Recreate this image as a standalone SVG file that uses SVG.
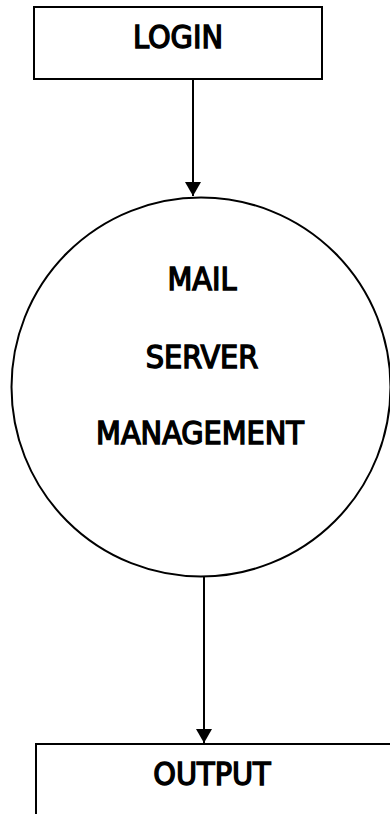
<svg xmlns="http://www.w3.org/2000/svg" width="390" height="814" viewBox="0 0 390 814">
  <style>
    .box { fill: #fff; stroke: #000; stroke-width: 2; }
    .proc { fill: #fff; stroke: #000; stroke-width: 2; }
    .edge { stroke: #000; stroke-width: 2; fill: none; }
    .lbl { font-family: "DejaVu Sans Condensed", "DejaVu Sans", "Liberation Sans", sans-serif; font-stretch: condensed; font-size: 32px; fill: #000; stroke: #000; stroke-width: 1.4; text-anchor: middle; }
  </style>
  <defs>
    <marker id="arrow" markerUnits="userSpaceOnUse" markerWidth="18" markerHeight="16" refX="14" refY="8" orient="auto">
      <path d="M0,0 L14,8 L0,16 Z" fill="#000"/>
    </marker>
  </defs>
  <rect width="390" height="814" fill="#fff"/>

  <g id="login">
    <rect class="box" x="34" y="7" width="288" height="72"/>
    <text class="lbl" x="178" y="48">LOGIN</text>
  </g>

  <g id="mail-server-management">
    <circle class="proc" cx="201" cy="387" r="189.5"/>
    <text class="lbl" x="202" y="290">MAIL</text>
    <text class="lbl" x="202" y="368">SERVER</text>
    <text class="lbl" x="200" y="444">MANAGEMENT</text>
  </g>

  <g id="output">
    <rect class="box" x="36" y="744" width="370" height="100"/>
    <text class="lbl" x="212" y="785">OUTPUT</text>
  </g>

  <g id="connectors">
    <line class="edge" x1="193" y1="79" x2="193" y2="196" marker-end="url(#arrow)"/>
    <line class="edge" x1="204" y1="577" x2="204" y2="743" marker-end="url(#arrow)"/>
  </g>
</svg>
